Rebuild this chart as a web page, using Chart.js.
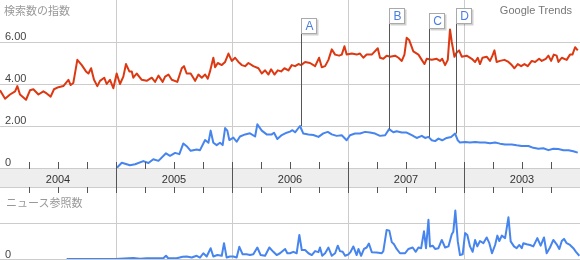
<!DOCTYPE html>
<html>
<head>
<meta charset="utf-8">
<script src="https://cdn.jsdelivr.net/npm/chart.js@4.4.1/dist/chart.umd.min.js"></script>
<style>
body{margin:0;width:580px;height:260px;position:relative;overflow:hidden;background:#fff;font-family:"Liberation Sans",Arial,sans-serif}
#top{position:absolute;left:0;top:0;z-index:2}
#news{position:absolute;left:0;top:190px;z-index:1}
.cap{position:absolute;font-family:"Noto Sans CJK JP";font-size:11px;line-height:1;color:#999;z-index:3}
</style>
</head>
<body>
<div class="cap" style="left:4px;top:5px">検索数の指数</div>
<div style="position:absolute;right:8px;top:4px;font-size:11px;color:#777;z-index:3">Google Trends</div>
<div class="cap" style="left:6px;top:197px">ニュース参照数</div>
<canvas id="top" width="580" height="193"></canvas>
<canvas id="news" width="580" height="70"></canvas>
<script>
// weeks since start of 2004
const totalWeeks = 261;
const yearLabels = ['2004', '2005', '2006', '2007', '2003'];
const indexTicks = [0, 2, 4, 6];
const newsTicks = [0, 1];

// search index, red
const redWeeks = [0,2.3,4.5,6.8,7.8,9,11.7,13.5,15,17.3,19.5,21,22.8,24.3,26.3,28.5,30.8,31.8,33,34.8,36.8,38.7,39.8,41,42.3,43.8,45,46.9,48,49.5,51,52.5,54,55.5,56.7,58.2,59.3,60,61.5,63.8,66,68.3,69.8,71.3,73.2,74.3,75.8,77.3,79.8,81.8,82.8,84,85.8,
  87.8,89.3,90.8,92.3,93.5,94.5,96,96.8,98,99.8,101.3,102.8,104.3,105.8,107.3,108.8,110.3,111.8,114,116.3,117.8,119.3,120.8,122,123.5,125,126.5,128,129.8,131.3,132.8,134.3,135.5,137.3,139.5,141.8,143.6,144.8,146.3,147.8,149.3,150.8,152.6,153.8,155,156,158.3,160.5,162,163.5,165,167.3,170,171,172.5,174,
  175.5,177.8,179.3,180.8,182,183,184.1,186,188.3,189.8,191,192,194.3,196.5,198,199,200.3,201.5,202.5,203.3,204.5,205.5,206.6,207.8,210,212.3,213.8,215,216,217.1,219,220.5,221.6,222.5,223.5,225,227,228.8,230.3,231.5,233,234.5,236,237.5,239.3,240.8,242.6,243.8,245.6,246.8,248,249.2,250.5,251.3,252.8,255,256.5,257.6,258.8,260];
const redValues = [3.7,3.3,3.5,3.65,3.9,3.5,3.25,3.7,3.75,3.5,3.65,3.55,3.4,3.75,3.85,3.9,4.2,3.95,4.05,5.15,4.9,4.6,4.5,4.75,4.2,3.9,4.15,4.3,4.0,4.2,3.8,4.5,4.0,4.35,4.95,4.6,4.6,4.3,4.5,4.2,4.15,4.3,4.1,4.4,4.1,4.35,4.45,4.2,4.1,4.75,4.85,4.5,4.5,
  4.15,4.45,4.3,4.45,4.25,4.6,5.25,4.8,5.0,4.9,5.05,5.45,5.1,5.25,5.05,4.9,4.85,5.0,4.85,4.75,4.5,4.65,4.45,4.7,4.45,4.65,4.6,4.75,4.65,4.9,4.85,4.95,4.9,5.05,5.0,4.85,5.25,4.8,4.85,5.15,5.65,5.4,5.35,5.4,5.8,5.4,5.45,5.4,5.45,5.25,5.4,5.4,5.7,5.25,5.2,5.35,
  5.3,5.35,5.25,5.1,5.4,6.2,6.1,5.55,5.4,5.15,4.95,5.2,5.15,5.2,5.1,5.2,4.9,5.15,6.6,6.0,5.3,5.5,5.6,5.3,5.35,5.2,5.05,5.25,4.95,5.25,5.3,5.1,5.35,5.6,5.05,5.1,5.15,5.05,4.9,4.75,4.95,4.85,4.95,4.85,5.1,5.05,5.2,5.1,5.2,5.35,5.1,5.4,5.35,5.05,5.25,5.15,5.4,5.4,5.75,5.6];

// search index, blue
const blueWeeks = [52.5,54.8,58.5,60.8,64.5,66.8,69,71.3,74.7,76.5,78.8,80.7,82.5,84,85.8,88.5,90,92.3,93.8,94.8,96,97.5,99,100.2,101.3,102.3,103.2,105,106.5,108,110.3,112.5,114.8,115.8,117.8,120,122.3,123.3,124.8,126.8,129,130.5,131.6,132.8,135,136.5,138.8,141,143.3,145.5,147.5,149.3,151.5,153.8,156,157.5,159.8,162,164.3,166.5,168.8,171,173.3,
  175.1,177,178.5,180.8,183,185.3,187.5,189.8,191.3,192.8,194.3,195.8,197.3,199,201,203,204.8,206,207,209.3,211.5,213.8,216,218.3,220.5,222.8,225,227.3,230.3,232.5,234.8,237.8,240,242.3,244.5,246.8,249,251.3,253.5,255.8,258,260];
const blueValues = [0,0.25,0.13,0.18,0.33,0.24,0.42,0.34,0.7,0.58,0.72,0.66,1.17,1.04,0.82,0.88,0.85,1.33,1.2,1.78,1.2,1.09,1.2,1.09,1.9,1.78,1.33,1.45,1.25,1.5,1.6,1.65,1.5,2.08,1.78,1.6,1.6,1.68,1.38,1.57,1.68,1.73,1.8,1.7,2.0,1.64,1.6,1.57,1.48,1.65,1.72,1.6,1.53,1.56,1.32,1.56,1.64,1.64,1.72,1.69,1.64,1.53,1.56,
  1.85,1.7,1.75,1.69,1.69,1.56,1.43,1.53,1.43,1.48,1.32,1.28,1.4,1.32,1.43,1.48,1.64,1.32,1.21,1.24,1.21,1.24,1.21,1.21,1.18,1.21,1.16,1.12,1.12,1.08,1.05,1.05,0.96,0.92,0.94,0.85,0.92,0.9,0.85,0.85,0.8,0.73];

// news reference volume
const newsWeeks = [30,51.8,60,63,66,73.5,74.7,75.7,79.5,82.2,84,86.3,88.5,90,91.5,93,94.8,96,97.8,99.8,100.8,102,103.5,105,106.5,107.7,109.2,111,112.5,114,115.8,117.3,119.3,121.2,123,124.5,126,128.3,129.3,
  130.5,132,133.5,134.7,135.8,137.3,138.8,140.3,141.8,143.3,144,145,146.3,147.8,149.3,150.8,152,153,154.2,155.3,156.8,157.8,159,160.5,161.3,162.5,163.8,165,166,167.3,169.5,171.8,172.5,174,175.2,176.3,177.3,178.5,180,182.3,183.8,185.7,187.1,188.3,189.5,190.8,191.7,192.8,193.5,194.7,195.8,197.3,198.8,200.3,201.8,203.3,204,204.9,206,207,208.2,209.3,210.3,211.5,212.7,213.8,214.8,216,217.5,219,220.2,221.4,222.8,223.8,224.7,225.8,227.3,228.8,229.8,231.3,232.5,233.7,234.8,235.5,237,238.5,240,241.8,243.3,244.8,246,247.5,249,250.5,251.7,252.8,253.8,255,256.5,258,259.2,260.7];
const newsValues = [0,0,0.03,0.01,0.02,0.02,0.09,0.02,0.02,0.06,0.07,0.04,0.09,0.04,0.16,0.07,0.3,0.07,0.11,0.09,0.44,0.04,0.07,0.07,0.04,0.34,0.13,0.13,0.11,0.13,0.32,0.11,0.09,0.32,0.2,0.11,0.16,0.28,0.16,
  0.16,0.2,0.16,0.67,0.25,0.25,0.16,0.11,0.22,0.19,0.32,0.09,0.16,0.32,0.09,0.16,0.37,0.22,0.2,0.09,0.13,0.2,0.35,0.11,0.28,0.09,0.28,0.32,0.43,0.19,0.18,0.16,0.22,0.81,0.79,0.47,0.41,0.28,0.16,0.16,0.28,0.32,0.2,0.32,0.3,0.77,0.3,1.09,0.35,0.37,0.28,0.3,0.53,0.32,0.35,0.69,0.76,1.35,0.49,0.11,0.13,0.72,0.67,0.35,0.2,0.53,0.35,0.5,0.44,0.6,0.44,0.16,0.39,0.65,0.5,0.65,0.58,1.16,0.49,0.35,0.3,0.39,0.3,0.44,0.41,0.39,0.35,0.58,0.37,0.6,0.16,0.32,0.53,0.41,0.28,0.5,0.56,0.44,0.39,0.3,0.2,0.09];

// event flags
const flagLetters = ['A', 'B', 'C', 'D'];
const flagWeeks = [135.3, 175.2, 193.2, 205.2];
const flagTops = [7.13, 7.64, 7.37, 7.62];
const flagValues = [2.0, 1.85, 1.48, 1.64];

const quarterTicks = [];
for (let i = 0; i <= 20; i++) quarterTicks.push(i * totalWeeks / 20);

const pts = (xs, ys) => xs.map((w, i) => ({x: w, y: ys[i]}));
const yearGrid = c => (c.index % 4 === 0 && c.index > 0 && c.index < 20) ? '#cccccc' : 'rgba(0,0,0,0)';
const noPad = s => { s.paddingTop = 0; s.paddingBottom = 0; s.paddingLeft = 0; s.paddingRight = 0; };

// gray year band under the top panel
const bandPlugin = {
  id: 'band',
  beforeDraw(chart) {
    const {ctx, chartArea} = chart;
    const b = Math.round(chartArea.bottom);
    ctx.save();
    ctx.fillStyle = '#eeeeee';
    ctx.fillRect(0, b + 1, chart.width, 18);
    ctx.fillStyle = '#cccccc';
    ctx.fillRect(0, b + 19, chart.width, 1);
    ctx.restore();
  },
  afterDraw(chart) {
    const {ctx, chartArea, scales: {x}} = chart;
    const b = Math.round(chartArea.bottom);
    ctx.save();
    ctx.strokeStyle = '#555';
    ctx.lineWidth = 1;
    quarterTicks.forEach((v, i) => {
      if (i === 0 || i === 20) return;
      const px = Math.round(x.getPixelForValue(v)) + 0.5;
      ctx.beginPath();
      if (i % 4 === 0) {
        ctx.moveTo(px, b - 6); ctx.lineTo(px, chart.height);
      } else {
        ctx.moveTo(px, b - 6); ctx.lineTo(px, b + 1);
        ctx.moveTo(px, b + 19); ctx.lineTo(px, chart.height);
      }
      ctx.stroke();
    });
    ctx.restore();
  }
};

const flagPlugin = {
  id: 'flags',
  afterDatasetsDraw(chart) {
    const {ctx, scales: {x, y}} = chart;
    ctx.save();
    flagLetters.forEach((L, i) => {
      const px = Math.round(x.getPixelForValue(flagWeeks[i])) + 0.5;
      const top = Math.round(y.getPixelForValue(flagTops[i])) + 0.5;
      const end = y.getPixelForValue(flagValues[i]);
      ctx.strokeStyle = '#555';
      ctx.lineWidth = 1;
      ctx.beginPath();
      ctx.moveTo(px, top + 15);
      ctx.lineTo(px, end);
      ctx.stroke();
      ctx.fillStyle = 'rgba(0,0,0,0.18)';
      ctx.fillRect(px + 1, top + 1, 16, 16);
      ctx.fillStyle = '#fff';
      ctx.fillRect(px, top, 15, 15);
      ctx.strokeStyle = '#aaa';
      ctx.strokeRect(px, top, 15, 15);
      ctx.fillStyle = '#4a7de0';
      ctx.font = '12px "Liberation Sans"';
      ctx.textAlign = 'center';
      ctx.textBaseline = 'middle';
      ctx.fillText(L, px + 8, top + 8.5);
    });
    ctx.restore();
  }
};

const line = (data, color) => ({
  data: data, borderColor: color, borderWidth: 2, pointRadius: 0,
  borderJoinStyle: 'round', tension: 0, fill: false
});

new Chart(document.getElementById('top'), {
  type: 'line',
  data: {
    datasets: [
      line(pts(blueWeeks, blueValues), '#4684ee'),
      line(pts(redWeeks, redValues), '#dc3912')
    ]
  },
  options: {
    responsive: false,
    animation: false,
    layout: {padding: {top: 0, left: 0, right: 0, bottom: 7}},
    plugins: {legend: {display: false}, tooltip: {enabled: false}},
    scales: {
      x: {
        type: 'linear', min: 0, max: totalWeeks,
        afterBuildTicks: s => { s.ticks = quarterTicks.map(v => ({value: v})); },
        afterFit: s => { noPad(s); s.height = 18; },
        border: {display: false},
        grid: {drawTicks: false, color: yearGrid},
        ticks: {
          autoSkip: false, maxRotation: 0, padding: 5, color: '#333',
          font: {family: 'Liberation Sans', size: 11},
          callback: (v, i) => i % 4 === 2 ? yearLabels[(i - 2) / 4] : ''
        }
      },
      y: {
        min: 0, max: 8,
        afterBuildTicks: s => { s.ticks = indexTicks.map(v => ({value: v})); },
        afterFit: s => { noPad(s); s.width = 0; },
        border: {display: false},
        grid: {drawTicks: false, color: '#cccccc'},
        ticks: {
          mirror: true, padding: 5, labelOffset: -5, color: '#444',
          font: {family: 'Liberation Sans', size: 11},
          callback: v => v === 0 ? '0' : v.toFixed(2)
        }
      }
    }
  },
  plugins: [bandPlugin, flagPlugin]
});

new Chart(document.getElementById('news'), {
  type: 'line',
  data: {datasets: [line(pts(newsWeeks, newsValues), '#4684ee')]},
  options: {
    responsive: false,
    animation: false,
    layout: {padding: {top: 0, left: 0, right: 0, bottom: 1}},
    plugins: {legend: {display: false}, tooltip: {enabled: false}},
    scales: {
      x: {
        type: 'linear', min: 0, max: totalWeeks,
        afterBuildTicks: s => { s.ticks = quarterTicks.map(v => ({value: v})); },
        afterFit: s => { noPad(s); s.height = 0; },
        border: {display: false},
        grid: {drawTicks: false, color: yearGrid},
        ticks: {display: false}
      },
      y: {
        min: 0, max: 1.92,
        afterBuildTicks: s => { s.ticks = newsTicks.map(v => ({value: v})); },
        afterFit: s => { noPad(s); s.width = 0; },
        border: {display: false},
        grid: {drawTicks: false, color: '#cccccc'},
        ticks: {
          mirror: true, padding: 5, labelOffset: -4, color: '#444',
          font: {family: 'Liberation Sans', size: 11},
          callback: v => v === 0 ? '0' : ''
        }
      }
    }
  }
});
</script>
</body>
</html>
